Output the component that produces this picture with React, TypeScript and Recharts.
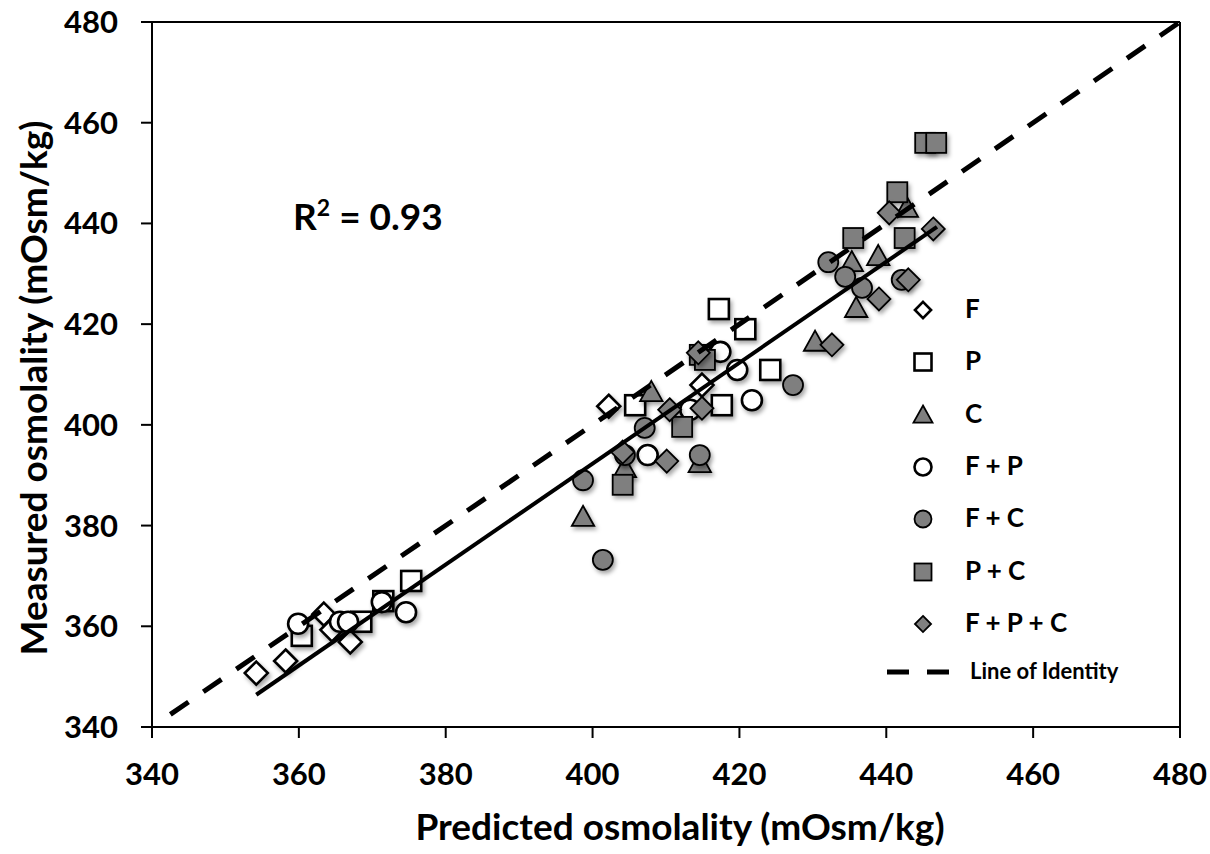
import React from 'react';
import {
  ScatterChart,
  Scatter,
  XAxis,
  YAxis,
  ReferenceLine,
  Label,
} from 'recharts';

const fPoints = [
  [354.2, 350.7], [358.2, 353.1], [363.4, 362.4], [364.5, 359.3], [367.0, 356.9],
  [402.2, 403.7], [414.9, 407.9],
];
const pPoints = [
  [360.4, 358.1], [368.5, 360.9], [371.5, 365.0], [375.3, 369.0], [405.8, 403.9],
  [417.6, 403.9], [417.2, 423.0], [420.8, 419.0], [424.2, 410.9],
];
const cPoints = [
  [398.7, 381.7], [404.4, 391.4], [408.0, 406.5], [414.6, 392.4], [430.3, 416.5],
  [435.9, 423.2], [435.3, 432.3], [438.9, 433.5], [442.8, 443.1],
];
const fpPoints = [
  [359.9, 360.5], [365.6, 360.9], [366.7, 360.9], [371.3, 364.8], [374.6, 362.8],
  [407.5, 394.0], [413.3, 403.0], [417.4, 414.5], [419.7, 410.9], [421.7, 404.9],
];
const fcPoints = [
  [398.7, 389.0], [401.4, 373.2], [404.4, 394.0], [407.1, 399.4], [414.6, 394.0],
  [427.3, 407.9], [432.1, 432.3], [434.4, 429.4], [436.7, 427.2], [442.1, 428.8],
];
const pcPoints = [
  [404.1, 388.1], [412.2, 399.6], [414.6, 413.9], [415.3, 412.9], [435.5, 437.1],
  [441.5, 446.2], [442.5, 437.1], [445.3, 456.0], [446.8, 456.0],
];
const fpcPoints = [
  [404.1, 394.6], [410.1, 392.8], [410.5, 403.0], [414.4, 414.3], [414.9, 403.3],
  [432.6, 415.9], [439.0, 425.0], [440.4, 442.1], [443.0, 428.8], [446.4, 438.9],
];

// fitted line and line of identity end points
const fitLine = [[354.2, 346.4], [446.9, 439.3]];
const identityLine = [[342.5, 342.5], [480, 480]];

const axisTicks = [340, 360, 380, 400, 420, 440, 460, 480];
const rSquared = '0.93';

type Kind = 'diamond' | 'square' | 'triangle' | 'circle';

const GRAY = '#7f7f7f';
const FONT = 'Lato, "Open Sans", sans-serif';

const seriesList: { name: string; points: number[][]; kind: Kind; fill: string }[] = [
  { name: 'F', points: fPoints, kind: 'diamond', fill: '#ffffff' },
  { name: 'P', points: pPoints, kind: 'square', fill: '#ffffff' },
  { name: 'C', points: cPoints, kind: 'triangle', fill: GRAY },
  { name: 'F + P', points: fpPoints, kind: 'circle', fill: '#ffffff' },
  { name: 'F + C', points: fcPoints, kind: 'circle', fill: GRAY },
  { name: 'P + C', points: pcPoints, kind: 'square', fill: GRAY },
  { name: 'F + P + C', points: fpcPoints, kind: 'diamond', fill: GRAY },
];

const toData = (pts: number[][]) => pts.map(([x, y]) => ({ x, y }));

const Marker = ({ kind, cx, cy, fill, s, shadow }: any) => {
  const h = s / 2;
  const style = shadow ? { filter: 'drop-shadow(2px 3px 2px rgba(0,0,0,0.35))' } : undefined;
  const common = { fill, stroke: '#000', strokeWidth: fill === '#ffffff' ? 2.6 : 1.8, style };
  if (kind === 'square') return <rect x={cx - h} y={cy - h} width={s} height={s} {...common} />;
  if (kind === 'circle') return <circle cx={cx} cy={cy} r={h} {...common} />;
  if (kind === 'triangle') {
    const t = h * 1.12;
    return <path d={`M${cx},${cy - t} L${cx + t},${cy + t * 0.8} L${cx - t},${cy + t * 0.8} Z`} {...common} />;
  }
  const d = h * 1.15;
  return <path d={`M${cx},${cy - d} L${cx + d},${cy} L${cx},${cy + d} L${cx - d},${cy} Z`} {...common} />;
};

const LegendBox = () => (
  <div style={{ position: 'absolute', left: 880, top: 284, fontFamily: FONT, fontWeight: 700 }}>
    {seriesList.map((s, i) => (
      <div key={s.name} style={{ position: 'absolute', top: i * 52.3, left: 0, height: 52, width: 260 }}>
        <svg width={70} height={52} style={{ position: 'absolute', left: 10, top: 0 }}>
          <Marker kind={s.kind} cx={33} cy={26} fill={s.fill} s={s.kind === 'diamond' ? 14 : 17} />
        </svg>
        <span style={{ position: 'absolute', left: 85, top: 8, fontSize: 26, whiteSpace: 'nowrap' }}>{s.name}</span>
      </div>
    ))}
    <div style={{ position: 'absolute', top: 7 * 52.3 + 2, left: 0, height: 52, width: 300 }}>
      <svg width={80} height={40} style={{ position: 'absolute', left: 5, top: 0 }}>
        <line x1={2} y1={20} x2={68} y2={20} stroke="#000" strokeWidth={5} strokeDasharray="22 18" />
      </svg>
      <span style={{ position: 'absolute', left: 90, top: 5, fontSize: 22, whiteSpace: 'nowrap' }}>Line of Identity</span>
    </div>
  </div>
);

const tickStyle = { fill: '#000', fontSize: 31, fontWeight: 700, fontFamily: FONT };

export default function App() {
  return (
    <div style={{ position: 'absolute', left: 0, top: 0, width: 1210, height: 854, background: '#fff' }}>
      <ScatterChart width={1210} height={854} margin={{ top: 22, right: 30, bottom: 0, left: 0 }}>
        <XAxis
          type="number"
          dataKey="x"
          domain={[340, 480]}
          ticks={axisTicks}
          interval={0}
          allowDataOverflow
          height={127}
          tickSize={11}
          tickMargin={25}
          tick={tickStyle}
          axisLine={{ stroke: '#000', strokeWidth: 2 }}
          tickLine={{ stroke: '#000', strokeWidth: 2 }}
        >
          <Label
            content={() => (
              <text x={680} y={840} textAnchor="middle" fontSize={37} fontWeight={700} fontFamily={FONT} fill="#000">
                Predicted osmolality (mOsm/kg)
              </text>
            )}
          />
        </XAxis>
        <YAxis
          type="number"
          dataKey="y"
          domain={[340, 480]}
          ticks={axisTicks}
          interval={0}
          allowDataOverflow
          width={152}
          tickSize={11}
          tickMargin={23}
          tick={tickStyle}
          axisLine={{ stroke: '#000', strokeWidth: 2 }}
          tickLine={{ stroke: '#000', strokeWidth: 2 }}
        >
          <Label
            content={() => (
              <text
                x={47}
                y={388}
                transform="rotate(-90, 47, 388)"
                textAnchor="middle"
                fontSize={37}
                fontWeight={700}
                fontFamily={FONT}
                fill="#000"
              >
                Measured osmolality (mOsm/kg)
              </text>
            )}
          />
        </YAxis>
        <ReferenceLine x={480} stroke="#000" strokeWidth={2} />
        <ReferenceLine y={480} stroke="#000" strokeWidth={2} />
        {seriesList.map((s) => (
          <Scatter
            key={s.name}
            name={s.name}
            data={toData(s.points)}
            isAnimationActive={false}
            shape={(p: any) => <Marker kind={s.kind} cx={p.cx} cy={p.cy} fill={s.fill} s={20} shadow />}
          />
        ))}
        <Scatter
          name="fit"
          data={toData(fitLine)}
          isAnimationActive={false}
          line={{ stroke: '#000', strokeWidth: 4 }}
          shape={() => <g />}
          legendType="none"
        />
        <Scatter
          name="Line of Identity"
          data={toData(identityLine)}
          isAnimationActive={false}
          line={{ stroke: '#000', strokeWidth: 5, strokeDasharray: '22 18' }}
          shape={() => <g />}
          legendType="none"
        />
      </ScatterChart>
      <div
        style={{
          position: 'absolute',
          left: 293,
          top: 193,
          fontFamily: FONT,
          fontWeight: 700,
          fontSize: 37,
          color: '#000',
          whiteSpace: 'nowrap',
        }}
      >
        R<sup style={{ fontSize: 23, verticalAlign: 'top', position: 'relative', top: 0 }}>2</sup> = {rSquared}
      </div>
      <LegendBox />
    </div>
  );
}
